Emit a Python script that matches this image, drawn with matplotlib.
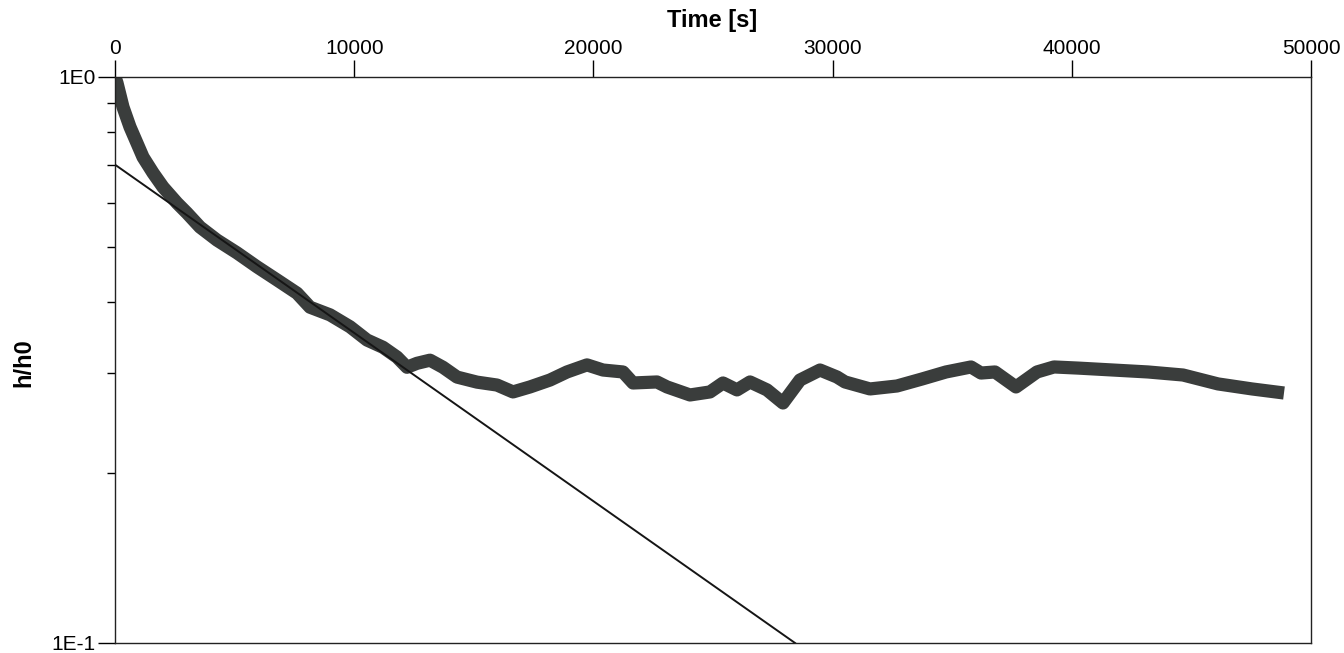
import matplotlib
matplotlib.use("Agg")
import matplotlib.pyplot as plt
from matplotlib.ticker import FixedLocator, NullFormatter

plt.rcParams['font.family'] = ['Liberation Sans', 'DejaVu Sans']

zeit = [0, 84, 334, 627, 920, 1171, 1589, 2007, 2592, 3010, 3554, 4264,
        5100, 5936, 6773, 7609, 8152, 8988, 9824, 10535, 11204, 11789,
        12207, 12625, 13169, 13712, 14298, 15134, 15970, 16639, 17349,
        18186, 18896, 19732, 20401, 21237, 21656, 22659, 23077, 24038,
        24875, 25418, 26003, 26547, 27258, 27926, 28637, 29473, 30184,
        30518, 31563, 32692, 33737, 34741, 35786, 36204, 36789, 37667,
        38545, 39256, 40259, 41722, 43186, 44649, 46112, 47534, 48871]
h_h0 = [1.0, 0.976, 0.885, 0.816, 0.764, 0.722, 0.677, 0.639, 0.599,
        0.575, 0.543, 0.515, 0.489, 0.462, 0.438, 0.415, 0.392, 0.380,
        0.362, 0.343, 0.333, 0.320, 0.307, 0.312, 0.316, 0.307, 0.295,
        0.289, 0.2856, 0.2777, 0.2834, 0.2915, 0.3012, 0.31, 0.3036,
        0.3012, 0.288, 0.2892, 0.2834, 0.2743, 0.2777, 0.288, 0.28,
        0.2892, 0.28, 0.2655, 0.2915, 0.3036, 0.2951, 0.2892, 0.2811,
        0.2845, 0.2927, 0.3012, 0.3074, 0.2999, 0.3012, 0.2834, 0.3012,
        0.3074, 0.306, 0.3036, 0.3012, 0.2975, 0.2869, 0.2811, 0.2765]

# Ausgleichsgerade (Endpunkte)
fit_t = [0, 28430]
fit_h = [0.70, 0.1]

x_ticks = [0, 10000, 20000, 30000, 40000, 50000]
y_major = [0.1, 1.0]
y_labels = ['1E-1', '1E0']
y_minor = [0.2, 0.3, 0.4, 0.5, 0.6, 0.7, 0.8, 0.9]

fig = plt.figure(figsize=(13.44, 6.53), dpi=100)
ax = fig.add_axes([115/1344, 1 - 643/653, (1311-115)/1344, (643-77)/653])

ax.plot(zeit, h_h0, color='#3a3d3c', lw=9.5, solid_joinstyle='round',
        solid_capstyle='butt', zorder=2)
ax.plot(fit_t, fit_h, color='#151515', lw=1.4, zorder=3)

ax.set_yscale('log')
ax.set_xlim(0, 50000)
ax.set_ylim(0.1, 1.0)

ax.xaxis.tick_top()
ax.xaxis.set_label_position('top')
ax.set_xticks(x_ticks)
ax.set_xticklabels([str(v) for v in x_ticks])
ax.yaxis.set_major_locator(FixedLocator(y_major))
ax.set_yticklabels(y_labels)
ax.yaxis.set_minor_locator(FixedLocator(y_minor))
ax.yaxis.set_minor_formatter(NullFormatter())

ax.tick_params(axis='both', which='major', direction='out', length=12,
               width=1, labelsize=15, pad=2)
ax.tick_params(axis='y', which='minor', direction='out', length=6, width=1)
ax.tick_params(axis='x', which='minor', top=False, bottom=False)

for s in ax.spines.values():
    s.set_linewidth(1.0)
    s.set_color('#222222')

fig.text(712/1344, 1 - 21/653, 'Time [s]', fontsize=17, fontweight='bold',
         ha='center', va='center')
fig.text(24/1344, 1 - 363/653, 'h/h0', fontsize=17, fontweight='bold',
         rotation=90, ha='center', va='center')

fig.savefig('out.png', dpi=100)
